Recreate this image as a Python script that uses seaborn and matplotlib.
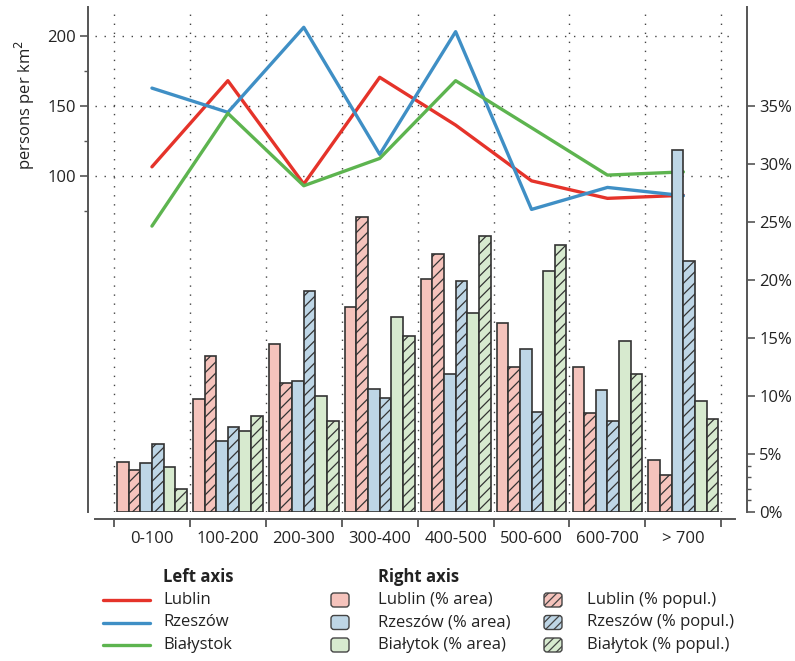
import numpy as np
import pandas as pd
import seaborn as sns
import matplotlib.pyplot as plt
from matplotlib.lines import Line2D
from matplotlib.patches import FancyBboxPatch
from matplotlib.ticker import PercentFormatter

# density class of municipalities (persons per km2)
cats = ['0-100', '100-200', '200-300', '300-400', '400-500', '500-600', '600-700', '> 700']

# left axis: population density
cities = ['Lublin', 'Rzeszów', 'Białystok']
lublin_density = [106.4, 167.9, 94.1, 170.3, 136.2, 96.4, 83.9, 86.1]
rzeszow_density = [162.6, 145.3, 206.0, 115.3, 202.9, 76.0, 91.7, 85.8]
bialystok_density = [64.1, 144.6, 92.9, 112.4, 167.9, 134.3, 100.5, 102.8]

# right axis: shares in %
lublin_area = [4.3, 9.7, 14.5, 17.7, 20.1, 16.3, 12.5, 4.5]
lublin_popul = [3.6, 13.4, 11.1, 25.4, 22.2, 12.5, 8.5, 3.2]
rzeszow_area = [4.25, 6.1, 11.3, 10.6, 11.9, 14.0, 10.5, 31.2]
rzeszow_popul = [5.9, 7.3, 19.0, 9.8, 19.9, 8.6, 7.8, 21.6]
bialystok_area = [3.85, 7.0, 10.0, 16.8, 17.1, 20.8, 14.7, 9.6]
bialystok_popul = [1.95, 8.25, 7.8, 15.2, 23.8, 23.0, 11.9, 8.0]

series = ['Lublin (% area)', 'Lublin (% popul.)',
          'Rzeszów (% area)', 'Rzeszów (% popul.)',
          'Białytok (% area)', 'Białytok (% popul.)']

line_colors = ['#e5332a', '#3f8fc5', '#5db44f']
light_colors = ['#f5c3bc', '#bed6e6', '#d7eacf']
bar_colors = [light_colors[0], light_colors[0], light_colors[1],
              light_colors[1], light_colors[2], light_colors[2]]

sns.set_style("white")
plt.rcParams['font.family'] = ['Open Sans', 'DejaVu Sans']
plt.rcParams['hatch.linewidth'] = 0.9
plt.rcParams['hatch.color'] = '#1a1a1a'
txt = '#222222'
spine_c = '#555555'

pos = np.arange(len(cats))

fig = plt.figure(figsize=(7.95, 6.61), dpi=100)
ax = fig.add_axes([95 / 795, 149 / 661, 640 / 795, 505 / 661])

lines_df = pd.DataFrame({
    'pos': np.tile(pos, 3),
    'density': lublin_density + rzeszow_density + bialystok_density,
    'city': np.repeat(cities, len(cats)),
})
sns.lineplot(data=lines_df, x='pos', y='density', hue='city', hue_order=cities,
             palette=line_colors, linewidth=2.4, legend=False, ax=ax)

ax2 = ax.twinx()
bar_df = pd.DataFrame({
    'pos': np.tile(pos, 6),
    'share': lublin_area + lublin_popul + rzeszow_area + rzeszow_popul
             + bialystok_area + bialystok_popul,
    'series': np.repeat(series, len(cats)),
})
sns.barplot(data=bar_df, x='pos', y='share', hue='series', hue_order=series,
            palette=bar_colors, native_scale=True, width=0.92, gap=0,
            saturation=1, errorbar=None, edgecolor='#333333', linewidth=1.2,
            legend=False, ax=ax2)
for i, cont in enumerate(ax2.containers):
    if i % 2 == 1:
        for p in cont:
            p.set_hatch('///')

# limits
ax.set_xlim(-0.75, 7.68)
ax.set_ylim(-140, 220.5)
ax2.set_ylim(0, 43.5)

# x axis: ticks at class boundaries, labels at centres
ax.set_xticks(np.arange(-0.5, 8, 1))
ax.set_xticklabels([])
ax.set_xticks(pos, minor=True)
ax.set_xticklabels(cats, minor=True)
ax.tick_params(axis='x', which='major', bottom=True, length=5.8, width=1.3,
               color=spine_c, direction='out')
ax.tick_params(axis='x', which='minor', bottom=True, length=0, pad=9,
               labelsize=12, labelcolor=txt)

# left axis
ax.set_yticks([100, 150, 200])
ax.set_yticks([75, 125, 175], minor=True)
ax.tick_params(axis='y', which='major', left=True, length=5.8, width=1.2,
               color=spine_c, labelsize=12, labelcolor=txt, pad=3)
ax.tick_params(axis='y', which='minor', left=True, length=3, width=1.0,
               color=spine_c)
ax.set_xlabel('')
ax.set_ylabel('')
fig.text(25 / 795, 1 - 105 / 661, 'persons per km$^2$', rotation=90,
         ha='center', va='center', fontsize=12, color=txt)

# right axis
ax2.set_yticks(np.arange(0, 36, 5))
ax2.set_yticks([1, 2, 3, 4], minor=True)
ax2.yaxis.set_major_formatter(PercentFormatter(decimals=0))
ax2.tick_params(axis='y', which='major', right=True, length=5.8, width=1.2,
                color=spine_c, labelsize=12, labelcolor=txt, pad=3)
ax2.tick_params(axis='y', which='minor', right=True, length=3, width=1.0,
                color=spine_c)
ax2.set_ylabel('')

# grid
ax.grid(True, which='major', axis='both', color='#444444',
        linestyle=(0, (1, 5.5)), linewidth=1.0)
ax2.grid(False)

# spines
for s in ['top', 'right']:
    ax.spines[s].set_visible(False)
for s in ['top', 'left', 'bottom']:
    ax2.spines[s].set_visible(False)
ax.spines['left'].set_position(('outward', 5))
ax.spines['bottom'].set_position(('outward', 5))
ax2.spines['right'].set_position(('outward', 8.6))
for sp in [ax.spines['left'], ax.spines['bottom'], ax2.spines['right']]:
    sp.set_color(spine_c)
    sp.set_linewidth(1.4)

# legend, drawn by hand in pixel positions
tr = fig.dpi_scale_trans


def px(x, y):
    return x / 100, (661 - y) / 100


rows = [600, 622.5, 645]
fig.text(*px(163, 577), 'Left axis', transform=tr, fontsize=12,
         fontweight='bold', va='center', ha='left', color=txt)
fig.text(*px(378, 577), 'Right axis', transform=tr, fontsize=12,
         fontweight='bold', va='center', ha='left', color=txt)
for k, name in enumerate(cities):
    y = rows[k]
    x0, y0 = px(103, y)
    x1, _ = px(150, y)
    fig.add_artist(Line2D([x0, x1], [y0, y0], transform=tr,
                          color=line_colors[k], linewidth=2.4))
    fig.text(*px(163, y), name, transform=tr, fontsize=12,
             va='center', ha='left', color=txt)
    for j, (bx, lx) in enumerate([(331, 378), (544, 587)]):
        bx0, by0 = px(bx, y + 7)
        box = FancyBboxPatch((bx0, by0), 0.18, 0.14,
                             boxstyle='round,pad=0,rounding_size=0.03',
                             transform=tr, facecolor=light_colors[k],
                             edgecolor='#444444', linewidth=1.0,
                             hatch='////' if j == 1 else None)
        fig.add_artist(box)
        fig.text(*px(lx, y), series[2 * k + j], transform=tr, fontsize=12,
                 va='center', ha='left', color=txt)

fig.savefig('out.png', dpi=100)
